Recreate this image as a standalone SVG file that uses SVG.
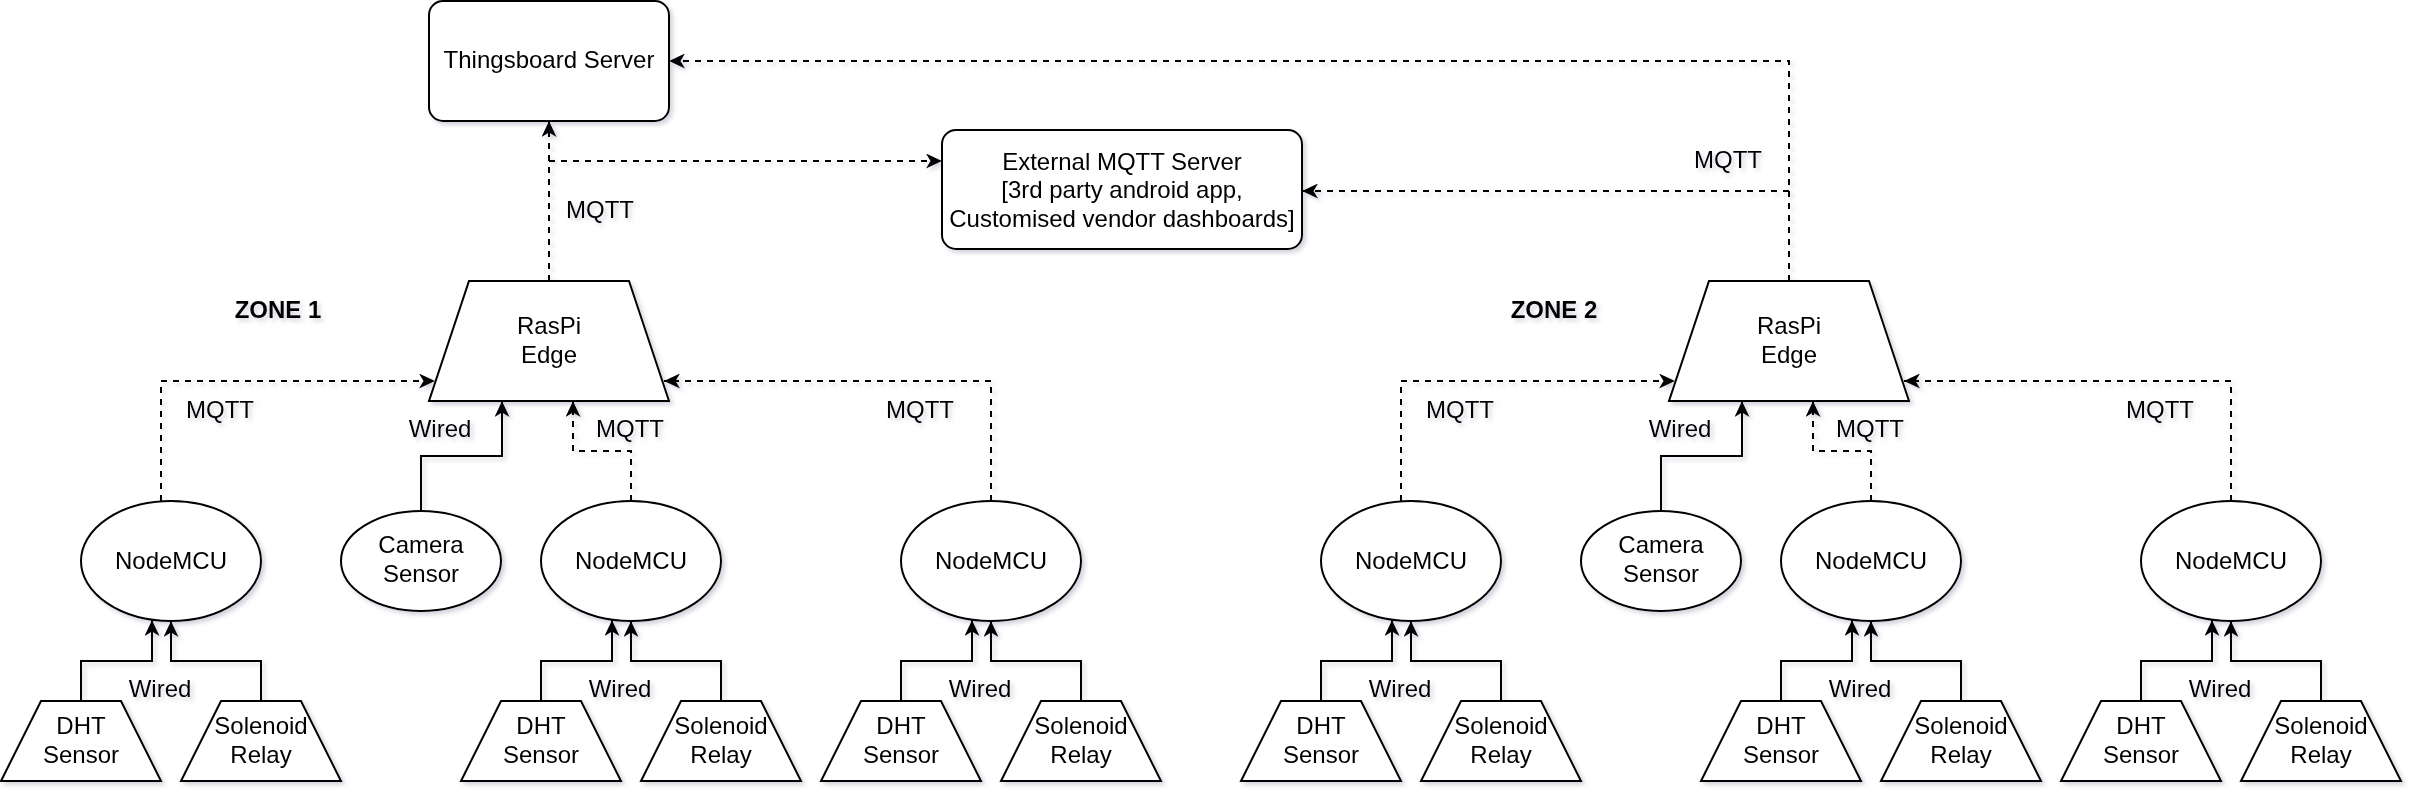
<svg xmlns="http://www.w3.org/2000/svg" width="2424" height="804" viewBox="0 0 2424 804">
<defs>
<filter id="sh" x="-5%" y="-5%" width="110%" height="110%">
<feDropShadow dx="3" dy="3" stdDeviation="2" flood-color="#707090" flood-opacity="0.3"/>
</filter>
<marker id="arr" markerUnits="userSpaceOnUse" markerWidth="16" markerHeight="15" viewBox="0 0 16 15" refX="16" refY="7.5" orient="auto">
<path d="M0,0 L16,7.5 L0,15 L4.5,7.5 Z" fill="#000"/>
</marker>
<style>
.shape{fill:#fff;stroke:#000;stroke-width:2}
.t{font-family:"Liberation Sans",Arial,Helvetica,sans-serif;font-size:24px;fill:#000;text-anchor:middle}
.b{font-weight:bold}
.e{fill:none;stroke:#000;stroke-width:2;marker-end:url(#arr)}
.d{stroke-dasharray:6 6}
</style>
</defs>
<rect width="2424" height="804" fill="#fff"/>
<g filter="url(#sh)">
<g id="connectors">
<path class="e d" d="M549 281 V121"/>
<path class="e d" d="M549 161 H942"/>
<path class="e d" d="M1789 281 V61 H669"/>
<path class="e d" d="M1789 191 H1302"/>
<path class="e d" d="M161 501 V381 H435"/>
<path class="e" d="M421 511 V456 H502 V401"/>
<path class="e d" d="M631 501 V451 H573 V401"/>
<path class="e d" d="M991 501 V381 H664"/>
<path class="e d" d="M1401 501 V381 H1675"/>
<path class="e" d="M1661 511 V456 H1742 V401"/>
<path class="e d" d="M1871 501 V451 H1813 V401"/>
<path class="e d" d="M2231 501 V381 H1904"/>
<path class="e" d="M81 701 V661 H152 V620"/>
<path class="e" d="M261 701 V661 H171 V621"/>
<path class="e" d="M541 701 V661 H612 V620"/>
<path class="e" d="M721 701 V661 H631 V621"/>
<path class="e" d="M901 701 V661 H972 V620"/>
<path class="e" d="M1081 701 V661 H991 V621"/>
<path class="e" d="M1321 701 V661 H1392 V620"/>
<path class="e" d="M1501 701 V661 H1411 V621"/>
<path class="e" d="M1781 701 V661 H1852 V620"/>
<path class="e" d="M1961 701 V661 H1871 V621"/>
<path class="e" d="M2141 701 V661 H2212 V620"/>
<path class="e" d="M2321 701 V661 H2231 V621"/>
<text class="t" x="600" y="218">MQTT</text>
<text class="t" x="1728" y="168">MQTT</text>
<text class="t" x="220" y="418">MQTT</text>
<text class="t" x="440" y="437">Wired</text>
<text class="t" x="630" y="437">MQTT</text>
<text class="t" x="920" y="418">MQTT</text>
<text class="t" x="1460" y="418">MQTT</text>
<text class="t" x="1680" y="437">Wired</text>
<text class="t" x="1870" y="437">MQTT</text>
<text class="t" x="2160" y="418">MQTT</text>
<text class="t" x="160" y="697">Wired</text>
<text class="t" x="620" y="697">Wired</text>
<text class="t" x="980" y="697">Wired</text>
<text class="t" x="1400" y="697">Wired</text>
<text class="t" x="1860" y="697">Wired</text>
<text class="t" x="2220" y="697">Wired</text>
</g>
<g id="thingsboard"><rect class="shape" x="429" y="1" width="240" height="120" rx="14"/><text class="t" x="549" y="68">Thingsboard Server</text></g>
<g id="external-mqtt"><rect class="shape" x="942" y="130" width="360" height="119" rx="14"/><text class="t" x="1122" y="170">External MQTT Server</text><text class="t" x="1122" y="198">[3rd party android app,</text><text class="t" x="1122" y="227">Customised vendor dashboards]</text></g>
<g id="zone1-label"><text class="t b" x="278" y="318">ZONE 1</text></g>
<g id="zone2-label"><text class="t b" x="1554" y="318">ZONE 2</text></g>
<g id="raspi1"><path class="shape" d="M429 401 H669 L629 281 H469 Z"/><text class="t" x="549" y="334">RasPi</text><text class="t" x="549" y="363">Edge</text></g>
<g id="raspi2"><path class="shape" d="M1669 401 H1909 L1869 281 H1709 Z"/><text class="t" x="1789" y="334">RasPi</text><text class="t" x="1789" y="363">Edge</text></g>
<g id="nodemcu1"><ellipse class="shape" cx="171" cy="561" rx="90" ry="60"/><text class="t" x="171" y="569">NodeMCU</text></g>
<g id="camera1"><ellipse class="shape" cx="421" cy="561" rx="80" ry="50"/><text class="t" x="421" y="553">Camera</text><text class="t" x="421" y="582">Sensor</text></g>
<g id="nodemcu2"><ellipse class="shape" cx="631" cy="561" rx="90" ry="60"/><text class="t" x="631" y="569">NodeMCU</text></g>
<g id="nodemcu3"><ellipse class="shape" cx="991" cy="561" rx="90" ry="60"/><text class="t" x="991" y="569">NodeMCU</text></g>
<g id="nodemcu4"><ellipse class="shape" cx="1411" cy="561" rx="90" ry="60"/><text class="t" x="1411" y="569">NodeMCU</text></g>
<g id="camera2"><ellipse class="shape" cx="1661" cy="561" rx="80" ry="50"/><text class="t" x="1661" y="553">Camera</text><text class="t" x="1661" y="582">Sensor</text></g>
<g id="nodemcu5"><ellipse class="shape" cx="1871" cy="561" rx="90" ry="60"/><text class="t" x="1871" y="569">NodeMCU</text></g>
<g id="nodemcu6"><ellipse class="shape" cx="2231" cy="561" rx="90" ry="60"/><text class="t" x="2231" y="569">NodeMCU</text></g>
<g id="dht1"><path class="shape" d="M1 781 H161 L121 701 H41 Z"/><text class="t" x="81" y="734">DHT</text><text class="t" x="81" y="763">Sensor</text></g>
<g id="relay1"><path class="shape" d="M181 781 H341 L301 701 H221 Z"/><text class="t" x="261" y="734">Solenoid</text><text class="t" x="261" y="763">Relay</text></g>
<g id="dht2"><path class="shape" d="M461 781 H621 L581 701 H501 Z"/><text class="t" x="541" y="734">DHT</text><text class="t" x="541" y="763">Sensor</text></g>
<g id="relay2"><path class="shape" d="M641 781 H801 L761 701 H681 Z"/><text class="t" x="721" y="734">Solenoid</text><text class="t" x="721" y="763">Relay</text></g>
<g id="dht3"><path class="shape" d="M821 781 H981 L941 701 H861 Z"/><text class="t" x="901" y="734">DHT</text><text class="t" x="901" y="763">Sensor</text></g>
<g id="relay3"><path class="shape" d="M1001 781 H1161 L1121 701 H1041 Z"/><text class="t" x="1081" y="734">Solenoid</text><text class="t" x="1081" y="763">Relay</text></g>
<g id="dht4"><path class="shape" d="M1241 781 H1401 L1361 701 H1281 Z"/><text class="t" x="1321" y="734">DHT</text><text class="t" x="1321" y="763">Sensor</text></g>
<g id="relay4"><path class="shape" d="M1421 781 H1581 L1541 701 H1461 Z"/><text class="t" x="1501" y="734">Solenoid</text><text class="t" x="1501" y="763">Relay</text></g>
<g id="dht5"><path class="shape" d="M1701 781 H1861 L1821 701 H1741 Z"/><text class="t" x="1781" y="734">DHT</text><text class="t" x="1781" y="763">Sensor</text></g>
<g id="relay5"><path class="shape" d="M1881 781 H2041 L2001 701 H1921 Z"/><text class="t" x="1961" y="734">Solenoid</text><text class="t" x="1961" y="763">Relay</text></g>
<g id="dht6"><path class="shape" d="M2061 781 H2221 L2181 701 H2101 Z"/><text class="t" x="2141" y="734">DHT</text><text class="t" x="2141" y="763">Sensor</text></g>
<g id="relay6"><path class="shape" d="M2241 781 H2401 L2361 701 H2281 Z"/><text class="t" x="2321" y="734">Solenoid</text><text class="t" x="2321" y="763">Relay</text></g>
</g>
</svg>
